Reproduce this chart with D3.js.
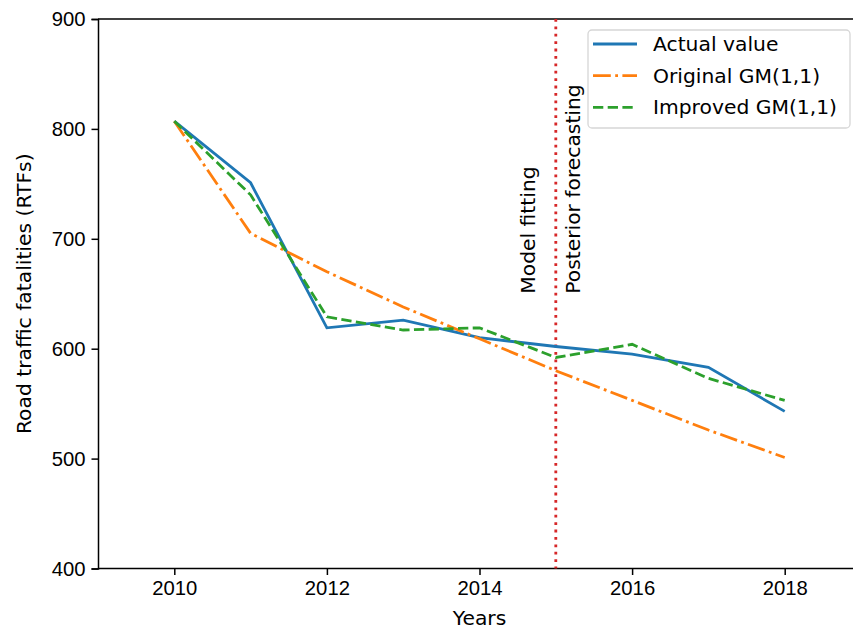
<!DOCTYPE html>
<html>
<head>
<meta charset="utf-8">
<script src="https://cdn.jsdelivr.net/npm/d3@7"></script>
<style>
  body { margin: 0; background: #fff; }
  svg { display: block; font-family: "DejaVu Sans", sans-serif; }
  .axis text { font-size: 20.3px; fill: #000; }
  .axis path, .axis line { stroke: #000; stroke-width: 1.5px; }
</style>
</head>
<body>
<div id="chart"></div>
<script>
// data
const years = [2010, 2011, 2012, 2013, 2014, 2015, 2016, 2017, 2018];
const actualValue = [807, 751, 619, 626, 610, 602, 595, 583, 543];
const originalGM = [807, 705, 670, 638, 609, 580, 553, 526, 501];
const improvedGM = [807, 740, 629, 617, 619, 592, 604, 573, 553];
const xTicks = [2010, 2012, 2014, 2016, 2018];
const yTicks = [400, 500, 600, 700, 800, 900];
const splitYear = 2015;

const width = 853, height = 631;
const margin = { top: 19, left: 98, bottom: 568.5 };
const fontSize = "20.3px";

const svg = d3.select("#chart").append("svg")
  .attr("width", width)
  .attr("height", height);

const x = d3.scaleLinear().domain([2009, 2019]).range([margin.left, 861]);
const y = d3.scaleLinear().domain([400, 900]).range([margin.bottom, margin.top]);

// frame (top spine; right spine falls outside the crop)
svg.append("line")
  .attr("x1", margin.left).attr("x2", width)
  .attr("y1", margin.top).attr("y2", margin.top)
  .attr("stroke", "#000").attr("stroke-width", 1.5);

const xAxis = svg.append("g")
  .attr("class", "axis")
  .attr("transform", `translate(0,${margin.bottom})`)
  .call(d3.axisBottom(x).tickValues(xTicks).tickFormat(d3.format("d")).tickSizeOuter(0).tickSize(6.5).tickPadding(6));
xAxis.select(".domain").attr("d", `M${margin.left},0H${width}`);

svg.append("g")
  .attr("class", "axis")
  .attr("transform", `translate(${margin.left},0)`)
  .call(d3.axisLeft(y).tickValues(yTicks).tickSizeOuter(0).tickSize(6.5).tickPadding(6));

// axis titles
svg.append("text")
  .attr("x", (margin.left + 861) / 2)
  .attr("y", 625)
  .attr("text-anchor", "middle")
  .style("font-size", fontSize)
  .text("Years");

svg.append("text")
  .attr("transform", `translate(31,${(margin.top + margin.bottom) / 2}) rotate(-90)`)
  .attr("text-anchor", "middle")
  .style("font-size", fontSize)
  .text("Road traffic fatalities (RTFs)");

// split marker
svg.append("line")
  .attr("x1", x(splitYear)).attr("x2", x(splitYear))
  .attr("y1", margin.top).attr("y2", margin.bottom)
  .attr("stroke", "#d62728")
  .attr("stroke-width", 2.8)
  .attr("stroke-dasharray", "2.8,4.6");

svg.append("text")
  .attr("transform", `translate(535,${y(650)}) rotate(-90)`)
  .style("font-size", fontSize)
  .text("Model fitting");

svg.append("text")
  .attr("transform", `translate(580,${y(650)}) rotate(-90)`)
  .style("font-size", fontSize)
  .text("Posterior forecasting");

const series = [
  { name: "Actual value", values: actualValue, color: "#1f77b4", dash: null },
  { name: "Original GM(1,1)", values: originalGM, color: "#ff7f0e", dash: "17.8,4.4,2.8,4.4" },
  { name: "Improved GM(1,1)", values: improvedGM, color: "#2ca02c", dash: "10.3,4.4" }
];

const line = d3.line()
  .x((d, i) => x(years[i]))
  .y(d => y(d));

series.forEach(s => {
  svg.append("path")
    .datum(s.values)
    .attr("d", line)
    .attr("fill", "none")
    .attr("stroke", s.color)
    .attr("stroke-width", 2.8)
    .attr("stroke-dasharray", s.dash);
});

// legend
const legend = svg.append("g").attr("transform", "translate(588,30)");
legend.append("rect")
  .attr("width", 262)
  .attr("height", 98)
  .attr("rx", 4)
  .attr("fill", "#fff")
  .attr("fill-opacity", 0.8)
  .attr("stroke", "#d6d6d6")
  .attr("stroke-width", 1.3);

series.forEach((s, i) => {
  const ly = 14 + i * 31.7;
  legend.append("line")
    .attr("x1", 5).attr("x2", 49)
    .attr("y1", ly).attr("y2", ly)
    .attr("stroke", s.color)
    .attr("stroke-width", 2.8)
    .attr("stroke-dasharray", s.dash);
  legend.append("text")
    .attr("x", 65)
    .attr("y", ly + 7)
    .style("font-size", fontSize)
    .text(s.name);
});
</script>
</body>
</html>
